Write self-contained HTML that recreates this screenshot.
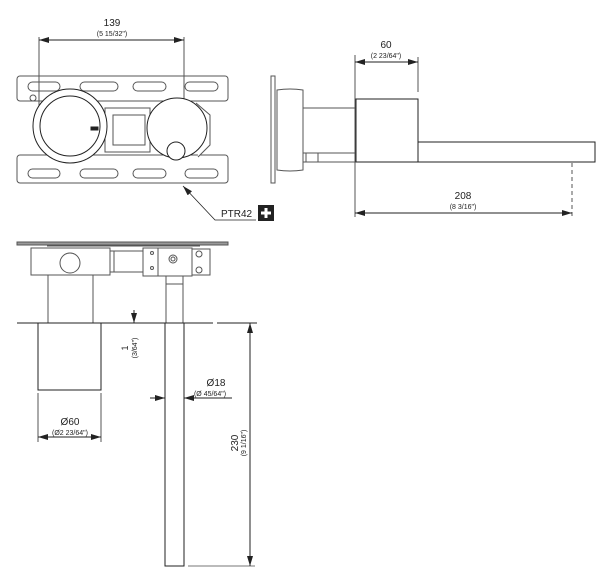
<!DOCTYPE html>
<html><head><style>body{margin:0;background:#fff}svg{display:block}</style></head><body>
<svg width="615" height="577" viewBox="0 0 615 577" xmlns="http://www.w3.org/2000/svg" font-family="Liberation Sans, sans-serif" fill="none" stroke="#222" stroke-width="1">
<defs><marker id="a" markerWidth="10" markerHeight="6" refX="10" refY="3" orient="auto-start-reverse" markerUnits="userSpaceOnUse"><path d="M0,0 L10,3 L0,6z" fill="#222" stroke="none"/></marker></defs>
<!-- TOP VIEW -->
<g stroke="#555">
<line x1="39" y1="37" x2="39" y2="125"/><line x1="184" y1="37" x2="184" y2="150"/>
<rect x="17" y="76" width="211" height="25" rx="3"/><rect x="17" y="155" width="211" height="28" rx="3"/>
<rect x="28" y="82" width="32" height="9" rx="4.5"/><rect x="80" y="82" width="38" height="9" rx="4.5"/><rect x="133" y="82" width="33" height="9" rx="4.5"/><rect x="185" y="82" width="33" height="9" rx="4.5"/>
<rect x="28" y="169" width="32" height="9" rx="4.5"/><rect x="80" y="169" width="38" height="9" rx="4.5"/><rect x="133" y="169" width="33" height="9" rx="4.5"/><rect x="185" y="169" width="33" height="9" rx="4.5"/>
<circle cx="33" cy="98" r="3"/>
<rect x="105" y="108" width="45" height="44" fill="#fff"/><rect x="113" y="115" width="32" height="30"/>
<path d="M196,103 L210,115 L210,145 L198,157" fill="#fff"/>
</g>
<circle cx="70" cy="126" r="37" fill="#fff"/><circle cx="70" cy="126" r="30"/>
<rect x="91" y="127" width="7" height="3" fill="#222"/>
<circle cx="177" cy="128" r="30" fill="#fff"/><circle cx="176" cy="151" r="9" fill="#fff"/>
<line x1="39" y1="40" x2="184" y2="40" marker-start="url(#a)" marker-end="url(#a)"/>
<text x="112" y="26" font-size="10" fill="#222" stroke="none" text-anchor="middle">139</text>
<text x="112" y="36" font-size="7" fill="#222" stroke="none" text-anchor="middle">(5 15/32")</text>
<polyline points="183,186 215,220 256,220" marker-start="url(#a)" stroke-width="0.8"/>
<text x="221" y="217" font-size="10" fill="#222" stroke="none">PTR42</text>
<rect x="258" y="205" width="16" height="16" fill="#222" stroke="none"/>
<path d="M266,208v10M261,213h10" stroke="#fff" stroke-width="3"/>
<!-- SIDE VIEW -->
<g stroke="#555"><rect x="271" y="76" width="4" height="107"/>
<path d="M277,90 Q290,88 303,90 L303,170 Q290,172 277,170Z"/>
<line x1="303" y1="108" x2="355" y2="108"/><line x1="303" y1="153" x2="355" y2="153"/><rect x="306" y="153" width="12" height="9"/>
<line x1="303" y1="162" x2="355" y2="162"/></g>
<rect x="355" y="99" width="63" height="63"/>
<line x1="355.5" y1="99" x2="355.5" y2="162" stroke-width="2"/>
<polyline points="418,142 595,142 595,162 355,162"/>
<line x1="355" y1="55" x2="355" y2="217" stroke="#555"/><line x1="418" y1="57" x2="418" y2="92" stroke="#555"/>
<line x1="572" y1="163" x2="572" y2="217" stroke="#555" stroke-dasharray="4,3"/>
<line x1="355" y1="62" x2="418" y2="62" marker-start="url(#a)" marker-end="url(#a)"/>
<text x="386" y="48" font-size="10" fill="#222" stroke="none" text-anchor="middle">60</text>
<text x="386" y="58" font-size="7" fill="#222" stroke="none" text-anchor="middle">(2 23/64")</text>
<line x1="355" y1="213" x2="572" y2="213" marker-start="url(#a)" marker-end="url(#a)"/>
<text x="463" y="199" font-size="10" fill="#222" stroke="none" text-anchor="middle">208</text>
<text x="463" y="209" font-size="7" fill="#222" stroke="none" text-anchor="middle">(8 3/16")</text>
<!-- FRONT VIEW -->
<g stroke="#555">
<rect x="17" y="242" width="211" height="3" fill="#999"/><line x1="47" y1="246" x2="200" y2="246"/>
<rect x="31" y="248" width="79" height="27"/><circle cx="70" cy="263" r="10"/>
<rect x="110" y="251" width="33" height="21"/><line x1="114" y1="251" x2="114" y2="272"/>
<rect x="143" y="248" width="49" height="28"/><line x1="158" y1="248" x2="158" y2="276"/>
<circle cx="152" cy="253" r="1.5"/><circle cx="152" cy="268" r="1.5"/><circle cx="173" cy="259" r="4"/><circle cx="173" cy="259" r="2"/>
<rect x="192" y="249" width="18" height="26"/><circle cx="199" cy="254" r="3"/><circle cx="199" cy="270" r="3"/>
<rect x="166" y="276" width="17" height="8"/><line x1="166" y1="284" x2="166" y2="323"/><line x1="183" y1="284" x2="183" y2="323"/>
<line x1="48" y1="275" x2="48" y2="323"/><line x1="93" y1="275" x2="93" y2="323"/>
</g>
<line x1="17" y1="323" x2="213" y2="323"/><line x1="217" y1="323" x2="257" y2="323"/>
<rect x="38" y="323" width="63" height="67"/>
<rect x="165" y="323" width="19" height="243"/>
<line x1="188" y1="566" x2="255" y2="566" stroke="#777"/>
<line x1="134" y1="310" x2="134" y2="323" marker-end="url(#a)"/>
<text transform="translate(128,348) rotate(-90)" font-size="9" fill="#222" stroke="none" text-anchor="middle">1</text>
<text transform="translate(137,348) rotate(-90)" font-size="7" fill="#222" stroke="none" text-anchor="middle">(3/64")</text>
<line x1="150" y1="398" x2="165" y2="398" marker-end="url(#a)"/><line x1="232" y1="398" x2="184" y2="398" marker-end="url(#a)"/>
<text x="216" y="386" font-size="10" fill="#222" stroke="none" text-anchor="middle">Ø18</text>
<text x="210" y="396" font-size="7" fill="#222" stroke="none" text-anchor="middle">(Ø 45/64")</text>
<line x1="38" y1="393" x2="38" y2="442" stroke="#555"/><line x1="101" y1="393" x2="101" y2="442" stroke="#555"/>
<line x1="38" y1="437" x2="101" y2="437" marker-start="url(#a)" marker-end="url(#a)"/>
<text x="70" y="425" font-size="10" fill="#222" stroke="none" text-anchor="middle">Ø60</text>
<text x="70" y="435" font-size="7" fill="#222" stroke="none" text-anchor="middle">(Ø2 23/64")</text>
<line x1="250" y1="323" x2="250" y2="566" marker-start="url(#a)" marker-end="url(#a)"/>
<text transform="translate(238,443) rotate(-90)" font-size="10" fill="#222" stroke="none" text-anchor="middle">230</text>
<text transform="translate(246,443) rotate(-90)" font-size="7" fill="#222" stroke="none" text-anchor="middle">(9 1/16")</text>
</svg>
</body></html>
